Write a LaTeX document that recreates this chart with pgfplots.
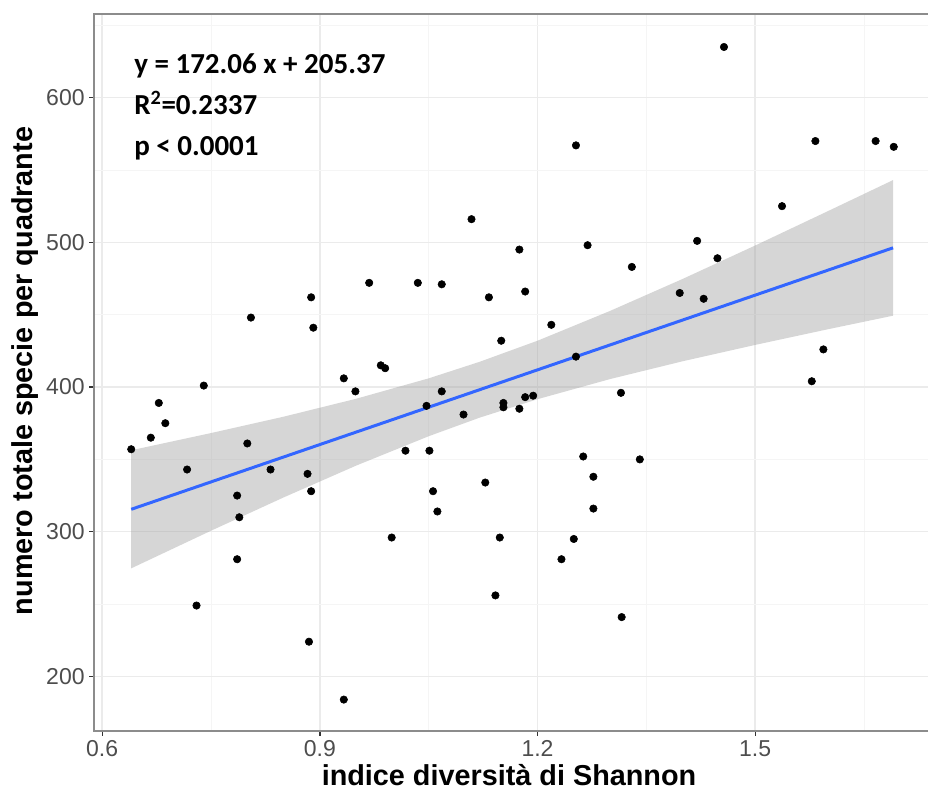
\documentclass[border=0pt]{standalone}
\usepackage{fontspec}
\setmainfont{Liberation Sans}
\newfontfamily\carlito{Carlito}
\usepackage{pgfplots}
\usepackage{pgfplotstable}
\pgfplotsset{compat=1.18}

\definecolor{ggblue}{HTML}{3366FF}
\definecolor{ticktext}{HTML}{4D4D4D}
\definecolor{gridmaj}{HTML}{EBEBEB}
\definecolor{gridmin}{HTML}{F5F5F5}
\definecolor{frame}{HTML}{8C8C8C}

% quadrats: Shannon index vs total species
\pgfplotstableread{
x     y
0.640 357
0.667 365
0.678 389
0.687 375
0.717 343
0.730 249
0.740 401
0.786 281
0.786 325
0.789 310
0.800 361
0.805 448
0.832 343
0.883 340
0.885 224
0.888 462
0.888 328
0.891 441
0.933 406
0.933 184
0.949 397
0.968 472
0.984 415
0.990 413
0.999 296
1.018 356
1.035 472
1.047 387
1.051 356
1.056 328
1.062 314
1.068 471
1.068 397
1.098 381
1.109 516
1.128 334
1.133 462
1.142 256
1.148 296
1.150 432
1.153 389
1.153 386
1.175 385
1.175 495
1.183 466
1.183 393
1.194 394
1.219 443
1.233 281
1.250 295
1.253 421
1.253 567
1.263 352
1.269 498
1.277 338
1.277 316
1.315 396
1.316 241
1.330 483
1.341 350
1.396 465
1.420 501
1.429 461
1.448 489
1.457 635
1.537 525
1.578 404
1.583 570
1.594 426
1.666 570
1.691 566
}\pts

\begin{document}
\begin{tikzpicture}
\begin{axis}[
  name=ax, at={(0,0)}, anchor=south west,
  scale only axis, width=625.5pt, height=537.75pt,
  xmin=0.5887, xmax=1.7382, ymin=162.3, ymax=657.8,
  xtick={0.6,0.9,1.2,1.5}, ytick={200,300,400,500,600},
  minor xtick={0.75,1.05,1.35,1.65}, minor ytick={250,350,450,550,650},
  grid=both,
  major grid style={gridmaj, line width=1.1pt},
  minor grid style={gridmin, line width=0.6pt},
  axis line style={draw=none},
  tick align=outside, tick pos=left,
  major tick length=3.5pt, minor tick length=0pt,
  major tick style={line width=1pt, color=black!80},
  /pgf/number format/assume math mode=true,
  xticklabel style={font=\fontsize{17.25}{20}\selectfont, text=ticktext},
  yticklabel style={font=\fontsize{17.25}{20}\selectfont, text=ticktext},
]
\addplot[only marks, mark=*, mark size=2.8pt, black] table[x=x, y=y] {\pts};
% 95% confidence band of the fit
\addplot[draw=none, fill=black!40, fill opacity=0.4] coordinates {
(0.64,356.3) (0.75,368.2) (0.85,379.5) (0.95,391.9) (1.05,406.0) (1.12,417.4)
(1.20,432.0) (1.30,452.6) (1.40,474.7) (1.50,497.8) (1.60,521.5) (1.69,543.0)
(1.69,449.3) (1.60,439.9) (1.50,429.1) (1.40,417.8) (1.30,405.5) (1.20,391.6)
(1.12,378.8) (1.05,366.0) (0.95,345.7) (0.85,323.7) (0.75,300.7) (0.64,274.7)
} -- cycle;
\addplot[ggblue, line width=2.25pt] coordinates {(0.64,315.5) (1.69,496.2)};
\end{axis}
\draw[frame, line width=1.1pt] (ax.south east) -- (ax.south west) -- (ax.north west) -- (ax.north east);
\begin{scope}[carlito/.style={font=\carlito\bfseries\fontsize{21.75}{26}\selectfont, inner sep=0pt, anchor=base west}]
\node[carlito] at (30pt,492.75pt) {y = 172.06 x + 205.37};
\node[carlito] at (30pt,462.5pt) {R\textsuperscript{2}=0.2337};
\node[carlito] at (30pt,431.25pt) {p < 0.0001};
\end{scope}
\node[font=\bfseries\fontsize{21.6}{25}\selectfont] at (311.25pt,-33pt) {indice diversità di Shannon};
\node[font=\bfseries\fontsize{21.6}{25}\selectfont, rotate=90] at (-51.5pt,270pt) {numero totale specie per quadrante};
\pgfresetboundingbox
\path (-70.5pt,-53.25pt) rectangle (626.25pt,548.25pt);
\end{tikzpicture}
\end{document}
